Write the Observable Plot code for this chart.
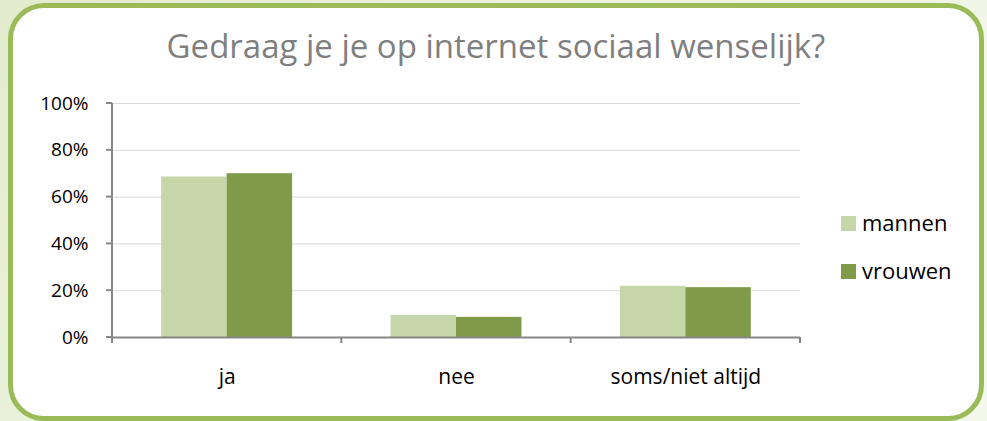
<!DOCTYPE html>
<html>
<head>
<meta charset="utf-8">
<script src="https://cdn.jsdelivr.net/npm/d3@7"></script>
<script src="https://cdn.jsdelivr.net/npm/@observablehq/plot@0.6"></script>
<style>
  html, body { margin: 0; padding: 0; }
  body {
    width: 987px; height: 421px; overflow: hidden; position: relative;
    background: linear-gradient(135deg, #e3ebcd 0%, #eef4e2 50%, #f4f8ec 100%);
    font-family: "Open Sans", sans-serif;
  }
  #box {
    position: absolute; left: 8px; top: 3px; width: 976px; height: 418px;
    box-sizing: border-box; border: 5px solid #9bbb59; border-radius: 36px;
    background: #fff;
  }
  #title {
    position: absolute; left: 8px; width: 976px; top: 29px;
    text-align: center; font-size: 33px; line-height: 33px; color: #7f7f7f;
    white-space: nowrap;
  }
  #chart { position: absolute; left: 0; top: 90px; }
  .leg { position: absolute; left: 841px; height: 22px; }
  .leg .sw { position: absolute; left: 0; width: 15px; height: 15px; }
  .leg .lb { position: absolute; left: 21px; top: 0; font-size: 22px; line-height: 22px; color: #000; white-space: nowrap; }
</style>
</head>
<body>
<div id="box"></div>
<div id="title"></div>
<div id="chart"></div>
<div id="legend"></div>
<script>
const title = "Gedraag je je op internet sociaal wenselijk?";
const categories = ["ja", "nee", "soms/niet altijd"];
const series = ["mannen", "vrouwen"];
const mannen = [0.686, 0.094, 0.219];
const vrouwen = [0.700, 0.086, 0.213];
const yTicks = [0, 0.2, 0.4, 0.6, 0.8, 1];
const colors = ["#c5d6a9", "#7f9a48"];

document.getElementById("title").textContent = title;

const W = 987, H = 310;
const mL = 112, mR = 187, mT = 13, mB = 63;
const bw = (W - mL - mR) / categories.length;
const outer = 0.2145;

const rows = [];
categories.forEach((c, i) => {
  rows.push({cat: c, s: series[0], v: mannen[i]});
  rows.push({cat: c, s: series[1], v: vrouwen[i]});
});

const axisDecor = (index, {x, y}, values, dims) => {
  const g = d3.create("svg:g").attr("stroke", "#868686").attr("stroke-width", 2);
  const band = x.bandwidth();
  const dom = x.domain();
  const edges = dom.map(d => x(d)).concat([x(dom[dom.length - 1]) + band]);
  const y0 = y(0);
  g.append("line").attr("x1", dims.marginLeft).attr("x2", dims.marginLeft)
    .attr("y1", y(1)).attr("y2", y0 + 6);
  g.selectAll("line.yt").data(yTicks).join("line").attr("class", "yt")
    .attr("x1", dims.marginLeft - 6).attr("x2", dims.marginLeft)
    .attr("y1", d => y(d)).attr("y2", d => y(d));
  g.selectAll("line.xt").data(edges).join("line").attr("class", "xt")
    .attr("x1", d => d).attr("x2", d => d).attr("y1", y0).attr("y2", y0 + 6);
  return g.node();
};

const plot = Plot.plot({
  width: W, height: H,
  marginLeft: mL, marginRight: mR, marginTop: mT, marginBottom: mB,
  style: {fontFamily: "Open Sans, sans-serif", fontSize: "19px", color: "#000", background: "transparent"},
  x: {domain: categories, padding: 0, round: false, tickSize: 0, tickPadding: 32, label: null},
  y: {domain: [0, 1], ticks: yTicks, tickFormat: d3.format(".0%"), tickSize: 0, tickPadding: 24, label: null},
  marks: [
    Plot.ruleY(yTicks.slice(1), {stroke: "#d9d9d9", strokeWidth: 1}),
    Plot.barY(rows.filter(d => d.s === series[0]), {x: "cat", y: "v", fill: colors[0], insetLeft: bw * outer, insetRight: bw * 0.5}),
    Plot.barY(rows.filter(d => d.s === series[1]), {x: "cat", y: "v", fill: colors[1], insetLeft: bw * 0.5, insetRight: bw * outer}),
    Plot.ruleY([0], {stroke: "#868686", strokeWidth: 2}),
    axisDecor
  ]
});
document.getElementById("chart").appendChild(plot);
plot.querySelectorAll("g[aria-label='x-axis tick label'] text, g[aria-label='x-axis'] text").forEach(t => t.style.fontSize = "21px");

const legendTops = [210.5, 258.5];
const legend = document.getElementById("legend");
series.forEach((s, i) => {
  const item = document.createElement("div");
  item.className = "leg";
  item.style.top = legendTops[i] + "px";
  const sw = document.createElement("div");
  sw.className = "sw";
  sw.style.background = colors[i];
  sw.style.top = "5px";
  const lb = document.createElement("div");
  lb.className = "lb";
  lb.textContent = s;
  item.appendChild(sw); item.appendChild(lb);
  legend.appendChild(item);
});
</script>
</body>
</html>
